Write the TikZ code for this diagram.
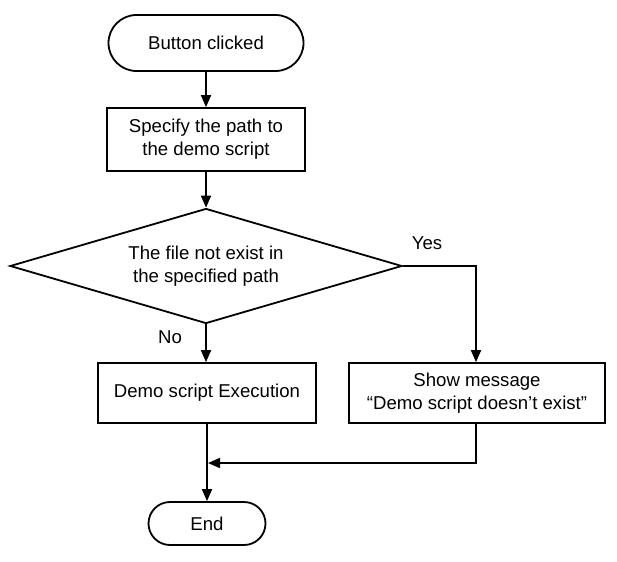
\documentclass[tikz,border=0pt]{standalone}
\usepackage{fontspec}
\setmainfont{Liberation Sans}
\usetikzlibrary{shapes.geometric,arrows.meta}
\begin{document}
\begin{tikzpicture}[x=1pt,y=-1pt,
  every node/.style={font=\fontsize{18.6}{23}\selectfont},
  base/.style={draw,line width=1.8pt,align=center,inner sep=0pt},
  termbox/.style={base,rectangle},
  procbox/.style={base,rectangle},
  decbox/.style={base,diamond,aspect=3.4},
  lbl/.style={inner sep=0pt},
  conn/.style={line width=1.8pt,-{Triangle[length=12pt,width=10pt]}},
  plain/.style={line width=1.8pt}]
\useasboundingbox (0,0) rectangle (617,561);
\node[termbox,minimum width=195pt,minimum height=56pt,rounded corners=28pt] (start) at (206,43) {Button clicked};
\node[procbox,minimum width=198pt,minimum height=63pt] (spec) at (206,139.5) {Specify the path to\\the demo script};
\node[decbox,minimum width=392pt,minimum height=115pt] (dec) at (206,266) {The file not exist in\\the specified path};
\node[procbox,minimum width=218pt,minimum height=60pt] (demo) at (207,393) {Demo script Execution};
\node[procbox,minimum width=256pt,minimum height=60pt] (show) at (477,393) {Show message\\\char"201C Demo script doesn\char"2019 t exist\char"201D};
\node[termbox,minimum width=117pt,minimum height=43pt,rounded corners=21.5pt] (end) at (207,523.5) {End};
\node[lbl] (yes) at (427,243) {Yes};
\node[lbl] (no) at (170,337) {No};
\coordinate (yc) at (476,266);
\coordinate (mr) at (476,463);
\coordinate (ml) at (208,463);
\draw[conn] (start) -- (spec);
\draw[conn] (spec) -- (dec);
\draw[conn] (dec.south) -- (demo.north -| dec.south);
\draw[conn] (dec.east) -- (yc) -- (yc |- show.north);
\draw[conn] (demo) -- (end);
\draw[conn] (mr |- show.south) -- (mr) -- (ml);
\end{tikzpicture}
\end{document}
